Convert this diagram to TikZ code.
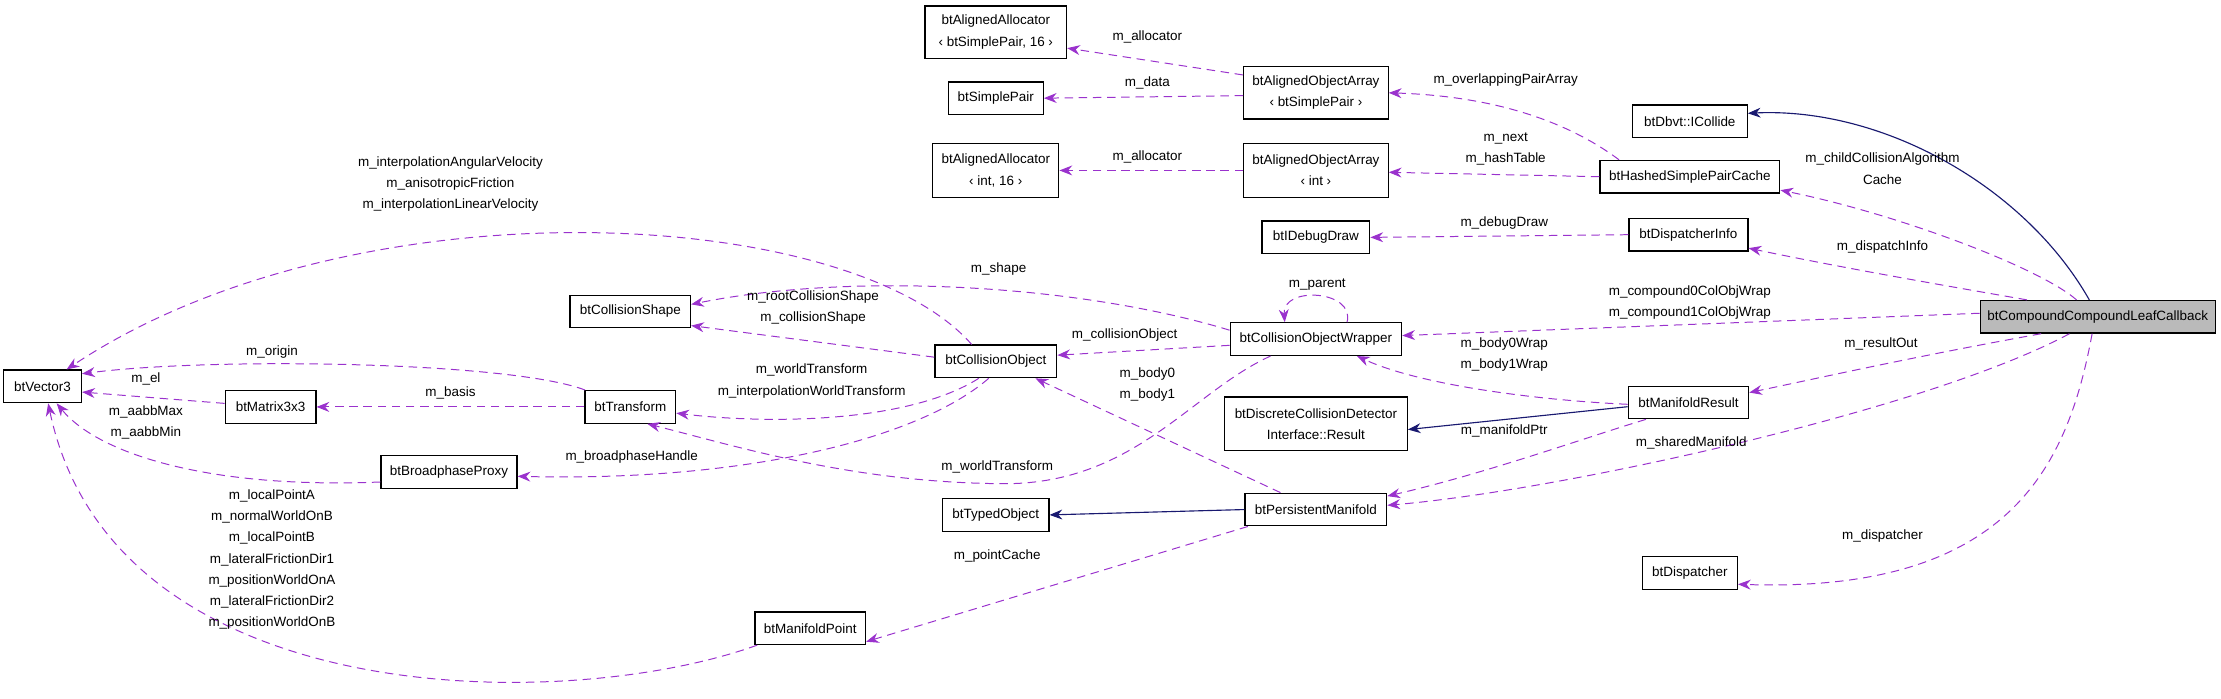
\documentclass[tikz,border=0pt]{standalone}
\usepackage{fontspec}
\setmainfont{Liberation Sans}
\usetikzlibrary{arrows.meta}
\definecolor{memcol}{HTML}{9A32CD}
\definecolor{inhcol}{HTML}{191970}
\tikzset{
    cls/.style={
        rectangle,
        draw=black,
        line width=0.9pt,
        inner sep=0pt,
        minimum height=23pt,
        fill=white,
        font=\fontsize{9.5}{15}\selectfont,
        align=center
    },
    member/.style={
        draw=memcol,
        dashed,
        dash pattern=on 6pt off 4pt,
        line width=0.7pt,
        -{Stealth[length=9pt,width=7pt]}
    },
    inherit/.style={
        draw=inhcol,
        line width=0.8pt,
        -{Stealth[length=9pt,width=7pt]}
    },
    lbl/.style={
        font=\fontsize{9.5}{15}\selectfont,
        align=center,
        inner sep=0pt
    }
}
\begin{document}
\begin{tikzpicture}[x=1pt,y=-0.63pt]
\useasboundingbox (0,0) rectangle (1568,783);

% Classes
\node[cls, minimum width=100pt, minimum height=37pt] (aa1) at (703,36) {btAlignedAllocator\\‹ btSimplePair, 16 ›};
\node[cls, minimum width=67pt] (simplepair) at (703,110) {btSimplePair};
\node[cls, minimum width=89pt, minimum height=38pt] (aa2) at (703,191) {btAlignedAllocator\\‹ int, 16 ›};
\node[cls, minimum width=85pt] (cshape) at (445,349) {btCollisionShape};
\node[cls, minimum width=86pt] (cobj) at (703,405) {btCollisionObject};
\node[cls, minimum width=55pt] (vec3) at (30,433) {btVector3};
\node[cls, minimum width=64pt] (mat3) at (191,456) {btMatrix3x3};
\node[cls, minimum width=64pt] (trans) at (445,456) {btTransform};
\node[cls, minimum width=96pt] (bproxy) at (317,529) {btBroadphaseProxy};
\node[cls, minimum width=75pt] (typed) at (703,577) {btTypedObject};
\node[cls, minimum width=78pt] (mpoint) at (572,704) {btManifoldPoint};
\node[cls, minimum width=102pt, minimum height=37pt] (aoa1) at (929,104) {btAlignedObjectArray\\‹ btSimplePair ›};
\node[cls, minimum width=102pt, minimum height=38pt] (aoa2) at (929,191) {btAlignedObjectArray\\‹ int ›};
\node[cls, minimum width=81pt] (icollide) at (1193,136) {btDbvt::ICollide};
\node[cls, minimum width=127pt] (hspc) at (1193,198) {btHashedSimplePairCache};
\node[cls, minimum width=76pt] (ddraw) at (929,266) {btIDebugDraw};
\node[cls, minimum width=84pt] (dinfo) at (1192,263) {btDispatcherInfo};
\node[cls, minimum width=166pt, fill=black!27] (cclc) at (1481,355) {btCompoundCompoundLeafCallback};
\node[cls, minimum width=121pt] (cow) at (929,380) {btCollisionObjectWrapper};
\node[cls, minimum width=129pt, minimum height=38pt] (dcdr) at (929,475) {btDiscreteCollisionDetector\\Interface::Result};
\node[cls, minimum width=85pt] (mresult) at (1192,451) {btManifoldResult};
\node[cls, minimum width=100pt] (pmani) at (929,571) {btPersistentManifold};
\node[cls, minimum width=67pt] (disp) at (1193,642) {btDispatcher};

% Inheritance
\draw[inherit] ([xshift=-6pt]cclc.north) .. controls (1430,210) and (1330,120) .. ([yshift=5.7pt]icollide.east);
\draw[inherit] ([yshift=-3pt]mresult.west) -- ([yshift=-4pt]dcdr.east);
\draw[inherit] (pmani.west) -- (typed.east);

% Members of btCompoundCompoundLeafCallback
\draw[member] ([xshift=-15pt]cclc.north) .. controls (1440,300) and (1340,240) .. ([yshift=-9.5pt]hspc.east);
\draw[member] ([xshift=-50pt]cclc.north) .. controls (1380,322) and (1300,300) .. ([yshift=-9.5pt]dinfo.east);
\draw[member] ([yshift=2.5pt]cclc.west) -- ([yshift=2.5pt]cow.east);
\draw[member] ([xshift=-40pt]cclc.south) .. controls (1350,400) and (1280,425) .. ([yshift=7pt]mresult.east);
\draw[member] ([xshift=-20pt]cclc.south) .. controls (1360,460) and (1100,550) .. ([yshift=3pt]pmani.east);
\draw[member] ([xshift=-4pt]cclc.south) .. controls (1460,520) and (1420,665) .. ([yshift=-8pt]disp.east);

% Arrays and allocators
\draw[member] ([yshift=12.6pt]aoa1.west) -- ([yshift=-11.3pt]aa1.east);
\draw[member] ([yshift=-2pt]aoa1.west) -- (simplepair.east);
\draw[member] (aoa2.west) -- (aa2.east);
\draw[member] ([xshift=-50pt]hspc.north) .. controls (1110,140) and (1060,108) .. (aoa1.east);
\draw[member] (hspc.west) -- ([yshift=-1.3pt]aoa2.east);
\draw[member] (dinfo.west) -- (ddraw.east);

% Wrapper and result
\draw[member] ([xshift=22pt]cow.north) .. controls (957,325) and (905,320) .. ([xshift=-22pt]cow.north);
\draw[member] ([yshift=-4.4pt]cow.west) -- ([yshift=4.4pt]cobj.east);
\draw[member] ([yshift=6.3pt]cow.west) .. controls (760,318) and (600,305) .. ([yshift=5pt]cshape.east);
\draw[member] ([xshift=-32pt]cow.south) .. controls (840,440) and (800,545) .. (705,542) .. controls (600,540) and (520,500) .. ([xshift=12pt]trans.south);
\draw[member] ([yshift=-1.3pt]mresult.west) .. controls (1080,448) and (1000,430) .. ([xshift=29pt]cow.south);
\draw[member] ([xshift=-30pt]mresult.south) .. controls (1120,490) and (1050,530) .. ([yshift=9.5pt]pmani.east);
\draw[member] ([xshift=-25pt]pmani.north) -- ([xshift=28pt]cobj.south);
\draw[member] ([xshift=-48pt]pmani.south) -- ([yshift=-9.5pt]mpoint.east);

% Collision object
\draw[member] ([yshift=3pt]cobj.west) -- ([yshift=-10pt]cshape.east);
\draw[member] ([xshift=-17pt]cobj.north) .. controls (600,230) and (250,200) .. ([xshift=17pt]vec3.north);
\draw[member] ([xshift=-12pt]cobj.south) .. controls (640,475) and (540,475) .. ([yshift=-4.4pt]trans.east);
\draw[member] ([xshift=-5pt]cobj.south) .. controls (650,490) and (530,540) .. ([yshift=-3pt]bproxy.east);
\draw[member] ([xshift=-32pt]trans.north) .. controls (360,405) and (150,400) .. ([yshift=-3pt]vec3.north east);
\draw[member] (trans.west) -- (mat3.east);
\draw[member] ([yshift=2.5pt]mat3.west) -- ([yshift=-4pt]vec3.east);
\draw[member] ([yshift=-7pt]bproxy.west) .. controls (150,548) and (70,510) .. ([xshift=10pt]vec3.south);
\draw[member] ([xshift=2pt]mpoint.south west) .. controls (400,800) and (80,800) .. ([xshift=4pt]vec3.south);

% Labels
\node[lbl] (l_alloc1) at (810,41) {m\_allocator};
\node[lbl] (l_data) at (810,93) {m\_data};
\node[lbl] (l_alloc2) at (810,176) {m\_allocator};
\node[lbl] (l_opa) at (1063,90) {m\_overlappingPairArray};
\node[lbl] (l_next) at (1063,167) {m\_next\\m\_hashTable};
\node[lbl] (l_ddraw) at (1062,250) {m\_debugDraw};
\node[lbl] (l_ccac) at (1329,189) {m\_childCollisionAlgorithm\\Cache};
\node[lbl] (l_dinfo) at (1329,277) {m\_dispatchInfo};
\node[lbl] (l_comp) at (1193,339) {m\_compound0ColObjWrap\\m\_compound1ColObjWrap};
\node[lbl] (l_rout) at (1328,385) {m\_resultOut};
\node[lbl] (l_shared) at (1194,496) {m\_sharedManifold};
\node[lbl] (l_disp) at (1329,601) {m\_dispatcher};
\node[lbl] (l_parent) at (930,319) {m\_parent};
\node[lbl] (l_cobj) at (794,375) {m\_collisionObject};
\node[lbl] (l_shape) at (705,301) {m\_shape};
\node[lbl] (l_wt) at (704,523) {m\_worldTransform};
\node[lbl] (l_bwrap) at (1062,397) {m\_body0Wrap\\m\_body1Wrap};
\node[lbl] (l_mptr) at (1062,483) {m\_manifoldPtr};
\node[lbl] (l_body) at (810,431) {m\_body0\\m\_body1};
\node[lbl] (l_pcache) at (704,623) {m\_pointCache};
\node[lbl] (l_cshape) at (574,345) {m\_rootCollisionShape\\m\_collisionShape};
\node[lbl] (l_vel) at (318,206) {m\_interpolationAngularVelocity\\m\_anisotropicFriction\\m\_interpolationLinearVelocity};
\node[lbl] (l_iwt) at (573,427) {m\_worldTransform\\m\_interpolationWorldTransform};
\node[lbl] (l_bph) at (446,512) {m\_broadphaseHandle};
\node[lbl] (l_origin) at (192,395) {m\_origin};
\node[lbl] (l_basis) at (318,440) {m\_basis};
\node[lbl] (l_el) at (103,425) {m\_el};
\node[lbl] (l_aabb) at (103,473) {m\_aabbMax\\m\_aabbMin};
\node[lbl] (l_mp) at (192,627) {m\_localPointA\\m\_normalWorldOnB\\m\_localPointB\\m\_lateralFrictionDir1\\m\_positionWorldOnA\\m\_lateralFrictionDir2\\m\_positionWorldOnB};

\end{tikzpicture}
\end{document}
